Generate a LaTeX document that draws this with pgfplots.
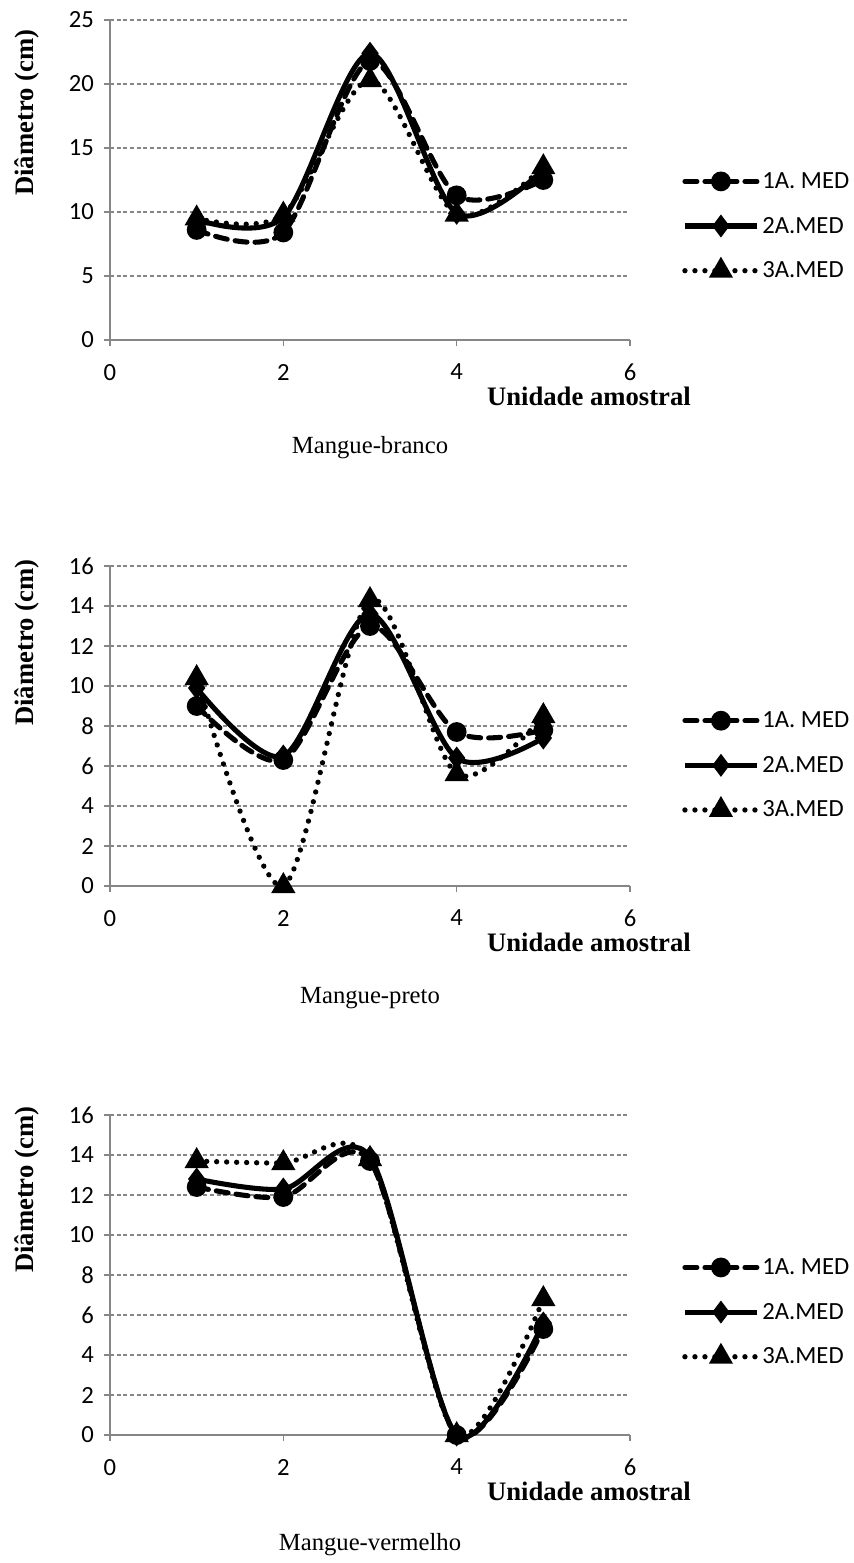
\documentclass[border=0pt]{standalone}
\usepackage{pgfplots}
\pgfplotsset{compat=1.18}
\usepackage{fontspec}
\setmainfont{Liberation Serif}
\newfontfamily\calibri{Carlito}
\definecolor{gridgray}{HTML}{868686}

\pgfplotstableread{
x s1 s2 s3
1 8.6 9.4 9.5
2 8.4 9.6 9.8
3 21.8 22.4 20.3
4 11.3 9.9 9.8
5 12.5 13.3 13.5
}\tblA
\pgfplotstableread{
x s1 s2 s3
1 9.0 9.9 10.4
2 6.3 6.5 0.0
3 13.0 13.6 14.3
4 7.7 6.4 5.6
5 7.8 7.4 8.5
}\tblB
\pgfplotstableread{
x s1 s2 s3
1 12.4 12.8 13.7
2 11.9 12.3 13.6
3 13.7 13.9 13.8
4 0.0 0.0 0.0
5 5.3 5.6 6.8
}\tblC

\tikzset{
  sA/.style={draw=black, line width=3.8pt, smooth, tension=0.5, dash pattern=on 9pt off 6pt, line cap=round,
    mark=*, mark size=5.5pt, mark options={solid, draw=black, fill=black}},
  sB/.style={draw=black, line width=3.8pt, smooth, tension=0.5, solid,
    mark=diamond*, mark size=5.5pt, mark options={solid, draw=black, fill=black}},
  sC/.style={draw=black, line width=4pt, smooth, tension=0.5, dash pattern=on 0pt off 7.5pt, line cap=round,
    mark=triangle*, mark size=6.5pt, mark options={solid, draw=black, fill=black}},
}

\pgfplotsset{
  myaxis/.style={
    scale only axis, width=390pt, height=240pt,
    xmin=0, xmax=6, xtick={0,2,4,6},
    axis x line*=bottom, axis y line*=left,
    axis line style={draw=gridgray, line width=1.1pt},
    tick align=outside, major tick length=4.5pt,
    major tick style={draw=gridgray, line width=1.1pt},
    ymajorgrids,
    major grid style={draw=gridgray, line width=0.9pt, dash pattern=on 3pt off 2pt},
    clip=false,
    tick label style={font=\calibri\fontsize{18.5}{20}\selectfont},
    /pgf/number format/assume math mode=true,
    xticklabel style={yshift=-10pt},
    yticklabel style={xshift=-4pt},
    xlabel={Unidade amostral}, ylabel={Diâmetro (cm)},
    label style={font=\bfseries\fontsize{20}{22}\selectfont},
    xlabel style={at={(axis description cs:0.921,0)}, anchor=center, yshift=-42pt},
    legend style={draw=none, fill=none, font=\calibri\fontsize{18.5}{20}\selectfont,
      anchor=west, row sep=16pt, inner sep=0pt},
    legend cell align=left,
    legend image code/.code={\draw[mark repeat=2,mark phase=2,##1] plot coordinates {(0pt,0pt) (27pt,0pt) (54pt,0pt)};},
  },
}

\begin{document}
\begin{tikzpicture}
\path[use as bounding box] (0pt,0pt) rectangle (639.75pt,-1172.25pt);

% ---- Chart 1
\begin{axis}[myaxis, at={(82.5pt,-255pt)}, anchor=south west,
  ymin=0, ymax=25, ytick={0,5,...,25},
  ylabel style={at={(axis description cs:-0.159,0.71)}, anchor=center},
  legend style={at={(axis description cs:1.1,0.356)}}]
\addplot[sA] table[x=x,y=s1] {\tblA};
\addplot[sB] table[x=x,y=s2] {\tblA};
\addplot[sC] table[x=x,y=s3] {\tblA};
\legend{1A. MED,2A.MED,3A.MED}
\end{axis}
\node[font=\fontsize{18.5}{20}\selectfont] at (277.5pt,-336pt) {Mangue-branco};

% ---- Chart 2
\begin{axis}[myaxis, at={(82.5pt,-664.5pt)}, anchor=south west,
  ymin=0, ymax=16, ytick={0,2,...,16},
  ylabel style={at={(axis description cs:-0.159,0.76)}, anchor=center},
  legend style={at={(axis description cs:1.1,0.377)}}]
\addplot[sA] table[x=x,y=s1] {\tblB};
\addplot[sB] table[x=x,y=s2] {\tblB};
\addplot[sC] table[x=x,y=s3] {\tblB};
\legend{1A. MED,2A.MED,3A.MED}
\end{axis}
\node[font=\fontsize{18.5}{20}\selectfont] at (277.5pt,-748.5pt) {Mangue-preto};

% ---- Chart 3
\begin{axis}[myaxis, at={(82.5pt,-1076.25pt)}, anchor=south west,
  ymin=0, ymax=16, ytick={0,2,...,16},
  ylabel style={at={(axis description cs:-0.159,0.766)}, anchor=center},
  legend style={at={(axis description cs:1.1,0.384)}}]
\addplot[sA] table[x=x,y=s1] {\tblC};
\addplot[sB] table[x=x,y=s2] {\tblC};
\addplot[sC] table[x=x,y=s3] {\tblC};
\legend{1A. MED,2A.MED,3A.MED}
\end{axis}
\node[font=\fontsize{18.5}{20}\selectfont] at (277.5pt,-1158.75pt) {Mangue-vermelho};
\end{tikzpicture}
\end{document}
